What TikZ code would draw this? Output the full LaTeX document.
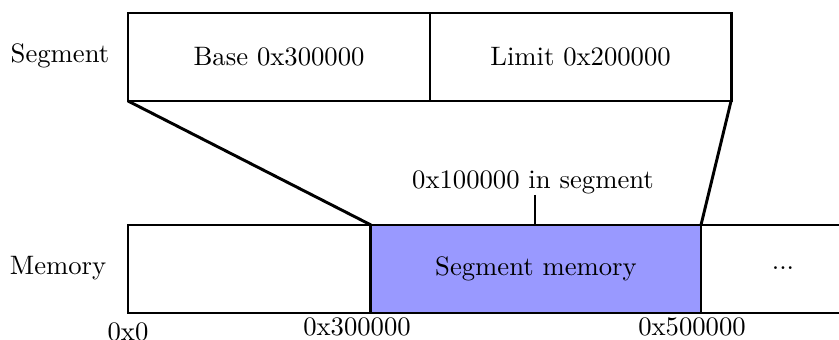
\documentclass[tikz,border=0pt]{standalone}
\begin{document}
\begin{tikzpicture}[x=0.375pt,y=-0.375pt,
  cell/.style={draw,line width=1.1pt,inner sep=0pt,outer sep=0pt,anchor=north west,minimum height=33pt},
  lbl/.style={inner sep=0pt},
  conn/.style={line width=1.1pt}]
\useasboundingbox (0,0) rectangle (839,340);
% segment descriptor
\node[cell,minimum width=113.25pt] (base) at (128,13) {Base 0x300000};
\node[cell,minimum width=112.9pt] (limit) at (430,13) {Limit 0x200000};
\node[lbl] (seglbl) at (60,56) {Segment};
% memory
\node[cell,minimum width=91.1pt] (low) at (128,225) {};
\node[cell,minimum width=123.75pt,fill=blue!40] (segmem) at (371,225) {Segment memory};
\node[cell,minimum width=60pt] (rest) at (701,225) {};
\node[lbl] at (783,268) {...};
\node[lbl] (memlbl) at (58,268) {Memory};
% connectors
\draw[conn] (base.south west) -- (segmem.north west);
\draw[conn] (limit.south east) -- (segmem.north east);
% offset tick
\coordinate (tick) at (535,195);
\draw[conn] (tick) -- (tick |- segmem.north);
\node[lbl] (offlbl) at (533,182) {0x100000 in segment};
% addresses
\node[lbl] (a0) at (128,332) {0x0};
\node[lbl] (a3) at (357,327) {0x300000};
\node[lbl] (a5) at (692,327) {0x500000};
\end{tikzpicture}
\end{document}
